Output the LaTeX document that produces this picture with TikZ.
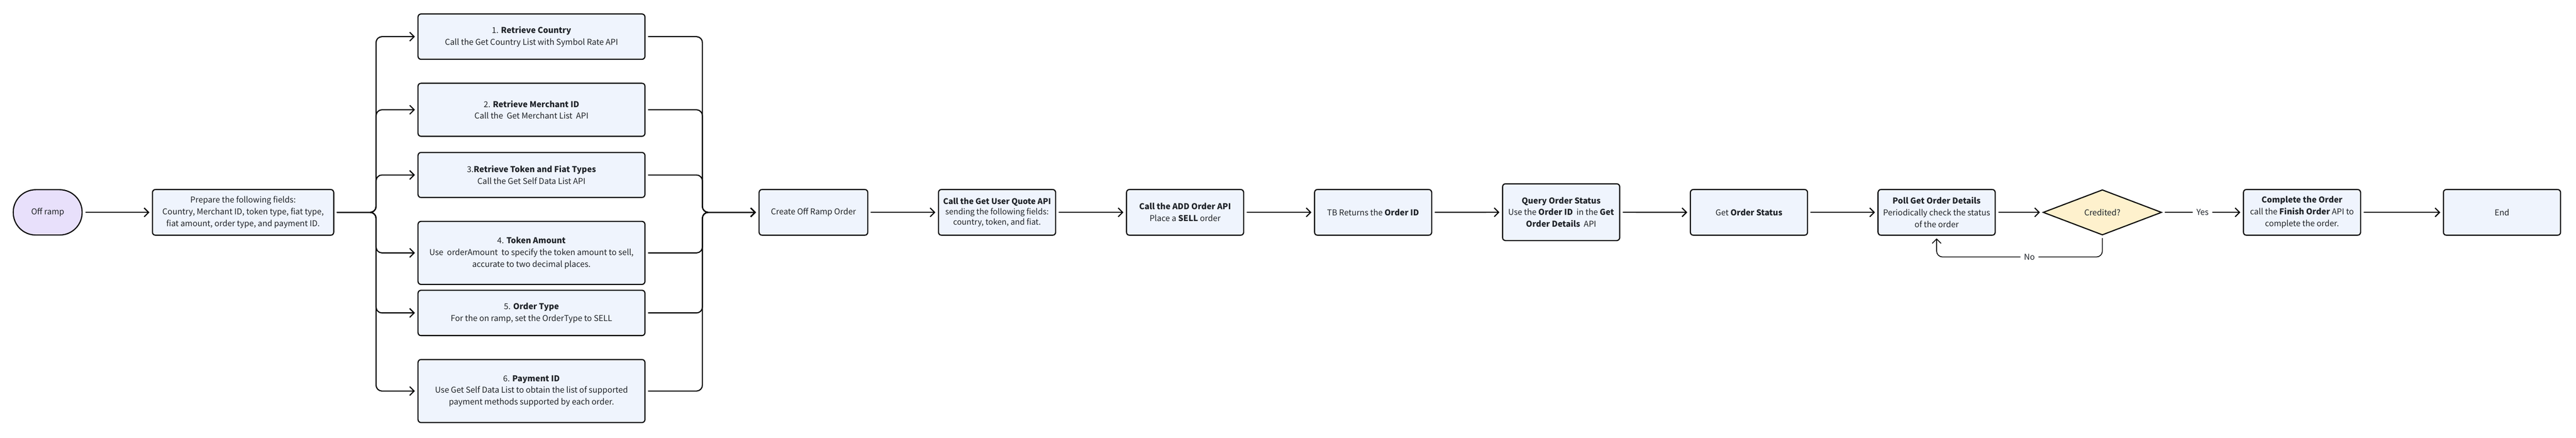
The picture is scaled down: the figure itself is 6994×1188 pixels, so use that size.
\documentclass[tikz,border=0pt]{standalone}
\usepackage{fontspec}
\setmainfont{Noto Sans CJK SC}
\usetikzlibrary{shapes.geometric,arrows.meta}
\definecolor{boxfill}{HTML}{EFF4FD}
\definecolor{pillfill}{HTML}{E8E0FB}
\definecolor{askfill}{HTML}{FEF1CD}
\definecolor{ink}{HTML}{1F2329}
\begin{document}
\begin{tikzpicture}[
    x=1pt, y=-1pt,
    every node/.style={font=\fontsize{22}{32}\selectfont, text=ink, align=center},
    stepbox/.style={draw, line width=3pt, fill=boxfill, rounded corners=8pt,
      minimum width=318pt, minimum height=124pt, inner sep=0pt},
    sidebox/.style={stepbox, minimum width=616pt},
    link/.style={line width=3pt, rounded corners=16pt, shorten <=7pt, shorten >=7pt,
      -{Straight Barb[length=12pt,width=24pt]}}
  ]
  \useasboundingbox (0,0) rectangle (6994,1188);
  \node[stepbox, fill=pillfill, minimum width=187pt, minimum height=123pt, rounded corners=61pt] (start) at (129.5,576.5) {Off ramp};
  \node[stepbox, minimum width=492pt] (prep) at (660,576.5) {Prepare the following fields:\\Country, Merchant ID, token type, fiat type,\\fiat amount, order type, and payment ID.};

  \node[sidebox, minimum height=123pt] (s1) at (1443,99.5) {1. \textbf{Retrieve Country}\\Call the Get Country List with Symbol Rate API};
  \node[sidebox, minimum height=144pt] (s2) at (1443,298) {2. \textbf{Retrieve Merchant ID}\\Call the\ \ Get Merchant List\ \ API};
  \node[sidebox, minimum height=122pt] (s3) at (1443,475) {3.\textbf{Retrieve Token and Fiat Types}\\Call the Get Self Data List API};
  \node[sidebox, minimum height=171pt] (s4) at (1443,686.5) {4. \textbf{Token Amount}\\Use\ \ orderAmount\ \ to specify the token amount to sell,\\accurate to two decimal places.};
  \node[sidebox, minimum height=123pt] (s5) at (1443,849.5) {5. \textbf{Order Type}\\For the on ramp, set the OrderType to SELL};
  \node[sidebox, minimum height=171pt] (s6) at (1443,1061.5) {6. \textbf{Payment ID}\\Use Get Self Data List to obtain the list of supported\\payment methods supported by each order.};

  \node[stepbox, minimum width=295pt] (create) at (2208.5,576.5) {Create Off Ramp Order};
  \node[stepbox, font=\fontsize{21.5}{28}\selectfont] (quote) at (2707,576.5) {\textbf{Call the Get User Quote API}\\sending the following fields:\\country, token, and fiat.};
  \node[stepbox] (add) at (3217.5,576.5) {\textbf{Call the ADD Order API}\\Place a \textbf{SELL} order};
  \node[stepbox] (tb) at (3728,576.5) {TB Returns the \textbf{Order ID}};
  \node[stepbox, minimum height=154pt] (query) at (4238.5,576) {\textbf{Query Order Status}\\Use the \textbf{Order ID}\ \ in the \textbf{Get}\\\textbf{Order Details}\ \ API};
  \node[stepbox] (status) at (4748.5,576.5) {Get \textbf{Order Status}};
  \node[stepbox] (poll) at (5258,576.5) {\textbf{Poll Get Order Details}\\Periodically check the status\\of the order};
  \node[draw, diamond, line width=3pt, fill=askfill, minimum width=322pt, minimum height=123pt, inner sep=0pt] (ask) at (5708,576.5) {Credited?};
  \node[stepbox] (done) at (6250,576.5) {\textbf{Complete the Order}\\call the \textbf{Finish Order} API to\\complete the order.};
  \node[stepbox] (end) at (6793,576.5) {End};

  \coordinate (lbus) at (1021,576.5);
  \coordinate (rbus) at (1907,576.5);
  \draw[link] (start) -- (prep);
  \foreach \s in {s1,s2,s3,s4,s5,s6} {
    \draw[link] (prep.east) -- (lbus) |- (\s.west);
    \draw[link] (\s.east) -| (rbus) -- (create.west);
  }
  \foreach \a/\b in {create/quote,quote/add,add/tb,tb/query,query/status,status/poll,poll/ask,done/end}
    \draw[link] (\a) -- (\b);
  \draw[link] (ask) -- node[fill=white, inner xsep=10pt]{Yes} (done);
  \draw[link, line width=2.2pt] (ask.south) -- ++(0,58) -| node[pos=0.22, fill=white, inner xsep=10pt]{No} (poll.south);
\end{tikzpicture}
\end{document}
